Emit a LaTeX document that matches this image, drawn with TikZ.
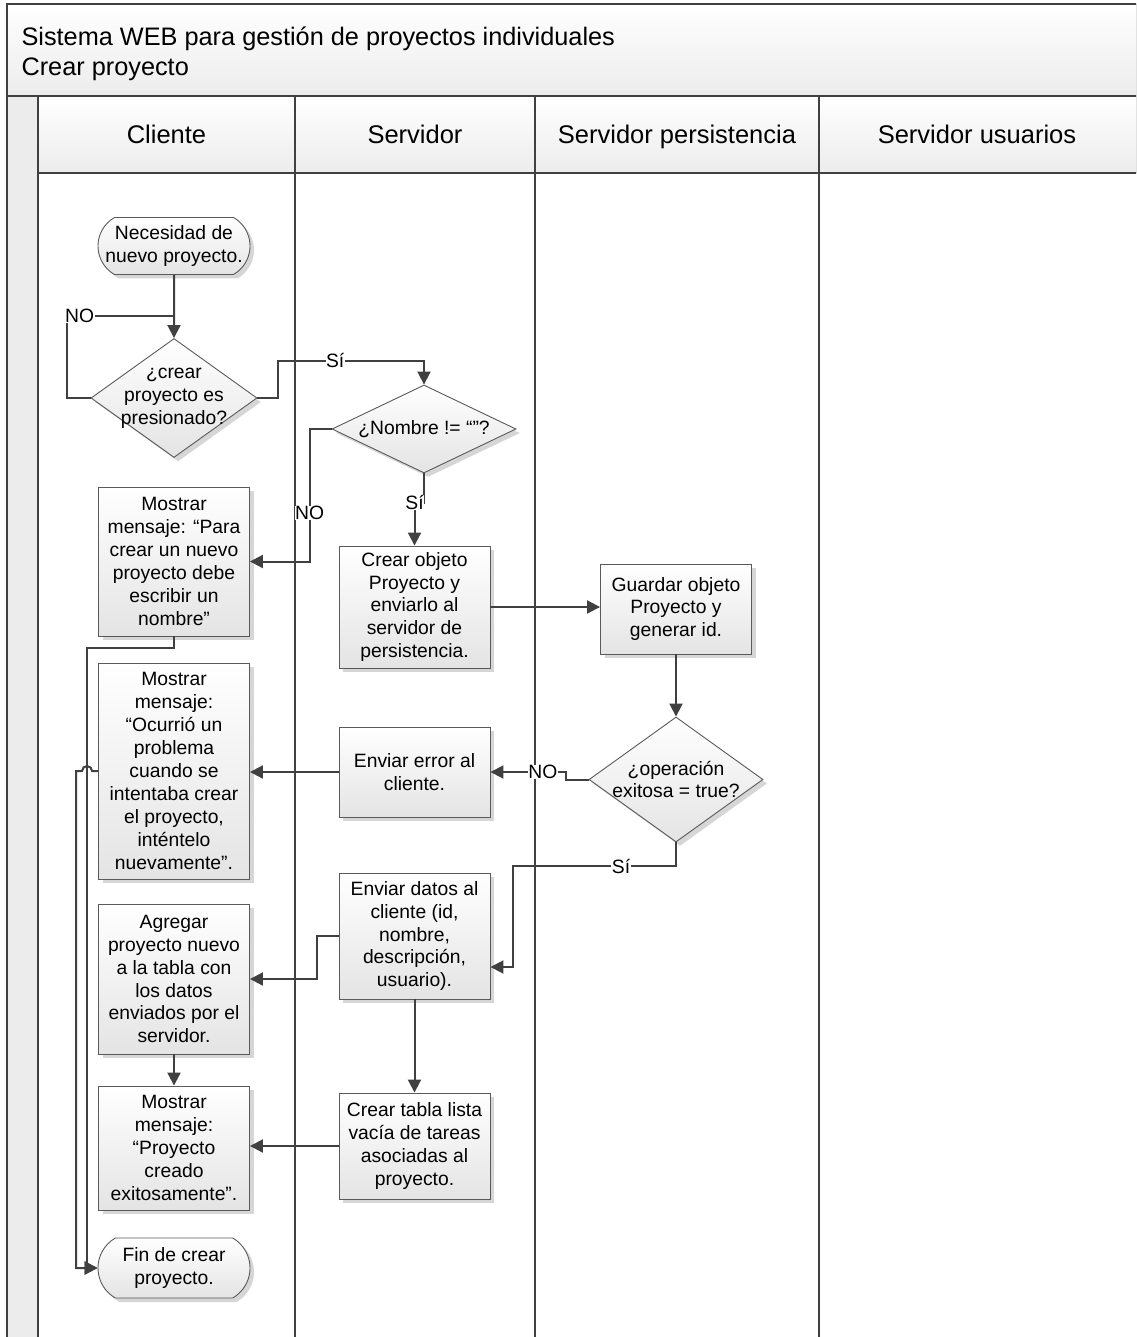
\documentclass[tikz,border=0pt]{standalone}
\usepackage{fontspec}
\setmainfont{Liberation Sans}
\usetikzlibrary{arrows.meta,shapes.geometric,shapes.misc,shadows,calc}

\definecolor{linegray}{HTML}{404040}
\definecolor{edgegray}{HTML}{5A5A5A}
\definecolor{shadegray}{HTML}{E4E4E4}
\definecolor{shadowgray}{HTML}{D6D6D6}
\definecolor{bandgray}{HTML}{ECECEC}

\begin{document}
\begin{tikzpicture}[x=1pt,y=-1pt,
  txt/.style={font=\fontsize{19.3}{22.9}\selectfont, align=center, text=black},
  base/.style={draw=edgegray, line width=0.9pt, top color=white, bottom color=shadegray,
    drop shadow={shadow xshift=4pt, shadow yshift=-4pt, fill=shadowgray, opacity=1}},
  process/.style={base, txt, rectangle, inner sep=0pt, minimum width=151pt},
  terminal/.style={base, txt, rounded rectangle, rounded rectangle arc length=120,
    minimum width=152pt, minimum height=57pt, inner sep=0pt},
  decision/.style={base, diamond, inner sep=0pt},
  flow/.style={draw=linegray, line width=2pt, -{Triangle[length=13pt,width=13pt]}},
  line/.style={draw=linegray, line width=2pt},
  lbl/.style={font=\fontsize{19.3}{22}\selectfont, fill=white, inner sep=0.5pt, text=black},
  lane/.style={draw=linegray, line width=1.4pt},
  frame/.style={draw=linegray, line width=1.8pt},
  head/.style={font=\fontsize{25.5}{30}\selectfont, text=black, anchor=base},
  titletext/.style={font=\fontsize{25.3}{30}\selectfont, align=left, text=black, anchor=west}
]
\useasboundingbox (0,0) rectangle (1136,1337);
\clip (0,0) rectangle (1136,1337);

% pool background: title band, vertical strip, lane header row
\fill[top color=white, bottom color=bandgray] (7,4) rectangle (1145,96);
\fill[bandgray] (7,96) rectangle (38,1345);
\fill[top color=white, bottom color=bandgray] (38,96) rectangle (1145,173);

% pool frame and lane dividers
\draw[frame] (1145,4) -- (7,4) -- (7,1345);
\draw[frame] (7,96) -- (1145,96);
\draw[lane] (38,173) -- (1145,173);
\draw[lane] (38,96) -- (38,1345);
\draw[lane] (295,96) -- (295,1345);
\draw[lane] (535,96) -- (535,1345);
\draw[lane] (819,96) -- (819,1345);

% titles
\node[titletext] (title) at (18,53.5) {Sistema WEB para gestión de proyectos individuales\\Crear proyecto};
\node[head] (laneA) at (166.5,143.5) {Cliente};
\node[head] (laneB) at (415,143.5) {Servidor};
\node[head] (laneC) at (677,143.5) {Servidor persistencia};
\node[head] (laneD) at (977,143.5) {Servidor usuarios};

% flow nodes
\node[terminal] (start) at (174,246) {Necesidad de\\nuevo proyecto.};
\node[decision, minimum width=166pt, minimum height=119pt,
  label={[txt]center:{¿crear\\proyecto es\\presionado?}}] (q1) at (174,398) {};
\node[decision, minimum width=184pt, minimum height=88pt,
  label={[txt]center:{¿Nombre != “”?}}] (q2) at (424,429) {};
\node[process, minimum height=149pt] (msg1) at (174,561.5)
  {Mostrar\\mensaje: “Para\\crear un nuevo\\proyecto debe\\escribir un\\nombre”};
\node[process, minimum height=122pt] (crear) at (414.5,607)
  {Crear objeto\\Proyecto y\\enviarlo al\\servidor de\\persistencia.};
\node[process, minimum height=90pt] (guardar) at (676,609)
  {Guardar objeto\\Proyecto y\\generar id.};
\node[decision, minimum width=174pt, minimum height=125pt,
  label={[txt]center:{¿operación\\exitosa = true?}}] (q3) at (676,779.5) {};
\node[process, minimum height=90pt] (error) at (414.5,772)
  {Enviar error al\\cliente.};
\node[process, minimum height=216pt] (msg2) at (174,771)
  {Mostrar\\mensaje:\\“Ocurrió un\\problema\\cuando se\\intentaba crear\\el proyecto,\\inténtelo\\nuevamente”.};
\node[process, minimum height=126pt] (datos) at (414.5,936)
  {Enviar datos al\\cliente (id,\\nombre,\\descripción,\\usuario).};
\node[process, minimum height=150pt] (agregar) at (174,979)
  {Agregar\\proyecto nuevo\\a la tabla con\\los datos\\enviados por el\\servidor.};
\node[process, minimum height=124pt] (msg3) at (174,1148)
  {Mostrar\\mensaje:\\“Proyecto\\creado\\exitosamente”.};
\node[process, minimum height=106pt] (tabla) at (414.5,1146)
  {Crear tabla lista\\vacía de tareas\\asociadas al\\proyecto.};
\node[terminal, minimum height=60pt] (fin) at (174,1268) {Fin de crear\\proyecto.};

\coordinate (joinA) at (174,316);

% connectors
\draw[flow] (start) -- (q1);
\draw[line] (q1.west) -- ++(-24,0) |- (joinA) node[lbl, pos=0.5, xshift=13pt] {NO};
\draw[flow] (q1.east) -- ++(21,0) |- ($(q2.north)+(0,-24)$) node[lbl, pos=0.695] {Sí} -- (q2.north);
\draw[flow] (q2.south) |- ($(crear.north)+(0,-43)$) node[lbl, pos=1] {Sí} -- (crear.north);
\draw[flow] (q2.west) -- ++(-22,0) |- (msg1.east) node[lbl, pos=0.317] {NO};
\draw[flow] (crear.east) -- (crear.east -| guardar.west);
\draw[flow] (guardar.south) -- (q3.north);
\draw[flow] (q3.west) -- ++(-23,0) |- (error.east) node[lbl, pos=0.651] {NO};
\draw[flow] (error.west) -- (error.west -| msg2.east);
\draw[flow] (q3.south) |- ($(datos.east)+(23,-70)$) node[lbl, pos=0.669] {Sí} |- ($(datos.east)+(0,31)$);
\draw[flow] (datos.west) -- ++(-22,0) |- (agregar.east);
\draw[flow] (datos) -- (tabla);
\draw[flow] (tabla.west) -- (tabla.west -| msg3.east);
\draw[flow] (agregar) -- (msg3);
\draw[flow] (msg1.south) |- ($(fin.west)+(-11,-620)$) |- (fin.west);
\draw[flow] (msg2.west) -- ++(-6,0) arc[start angle=0, end angle=180, radius=5pt] -- ++(-6,0) |- (fin.west);
\end{tikzpicture}
\end{document}
